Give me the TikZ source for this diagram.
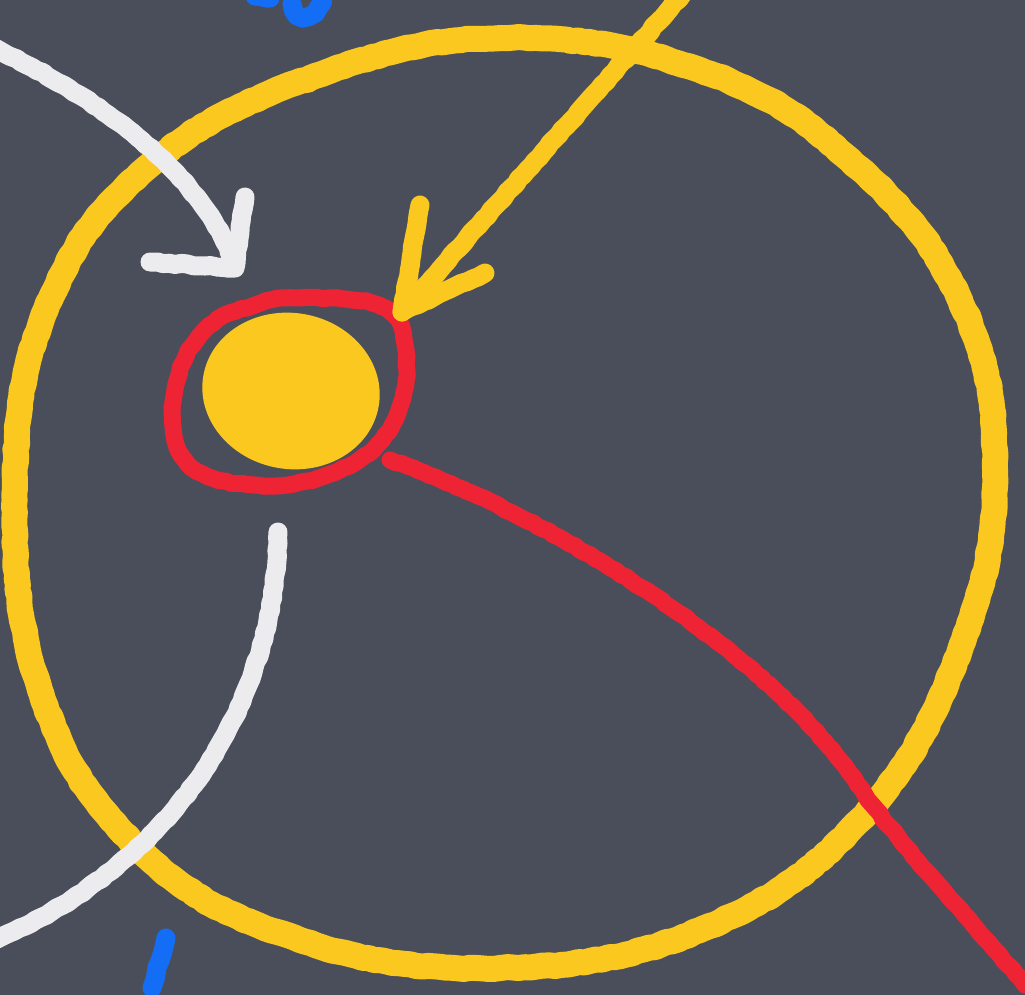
\documentclass[tikz,border=0pt]{standalone}
\usetikzlibrary{decorations.pathmorphing}
\definecolor{board}{RGB}{74,78,90}
\definecolor{chalkyellow}{RGB}{250,200,30}
\definecolor{chalkred}{RGB}{238,36,52}
\definecolor{chalkwhite}{RGB}{236,236,238}
\definecolor{chalkblue}{RGB}{20,110,245}
\tikzset{
  chalk/.style={line cap=round, line join=round, decorate, decoration={random steps, segment length=6pt, amplitude=0.8pt}},
  yellowline/.style={chalk, draw=chalkyellow, line width=26pt},
  yellowarrow/.style={chalk, draw=chalkyellow, line width=19pt},
  redline/.style={chalk, draw=chalkred, line width=17pt},
  whiteline/.style={chalk, draw=chalkwhite, line width=19pt},
  blueline/.style={chalk, draw=chalkblue, line width=19pt}
}
\begin{document}
\begin{tikzpicture}[x=1pt,y=-1pt]
\fill[board] (0,0) rectangle (1025,995);
\useasboundingbox (0,0) rectangle (1025,995);
% big yellow circle
\draw[yellowline] plot[smooth cycle, tension=0.7] coordinates {
 (500,38) (700,70) (850,160) (960,300) (995,470) (960,650) (860,820) (700,930)
 (500,968) (300,940) (140,850) (40,690) (15,480) (50,300) (150,165) (310,78)};
% yellow sun
\fill[chalkyellow, rotate around={-10:(291,391)}] (291,391) ellipse [x radius=89pt, y radius=78pt];
% red ring
\draw[redline] plot[smooth cycle, tension=0.7] coordinates {
 (300,298) (380,306) (405,345) (395,420) (340,470) (255,485) (185,460) (175,390) (205,330) (255,305)};
% red line
\draw[redline] (390,460) .. controls (560,520) and (780,660) .. (865,795) .. controls (930,880) and (980,930) .. (1025,985);
% white arrow top-left
\draw[whiteline] (-5,48) .. controls (100,100) and (200,170) .. (235,265);
\draw[whiteline] (245,197) -- (235,268) -- (150,262);
% white arc bottom
\draw[whiteline] (278,532) .. controls (275,700) and (180,860) .. (-5,940);
% yellow arrow
\draw[yellowarrow] (682,-5) -- (402,312);
\draw[yellowarrow] (420,205) -- (402,312) -- (485,273);
% blue marks
\draw[blueline] (292,4) .. controls (296,20) and (312,22) .. (322,2);
\draw[blueline] (255,-4) -- (270,-2);
\draw[blueline] (166,938) -- (152,988);
\end{tikzpicture}
\end{document}
